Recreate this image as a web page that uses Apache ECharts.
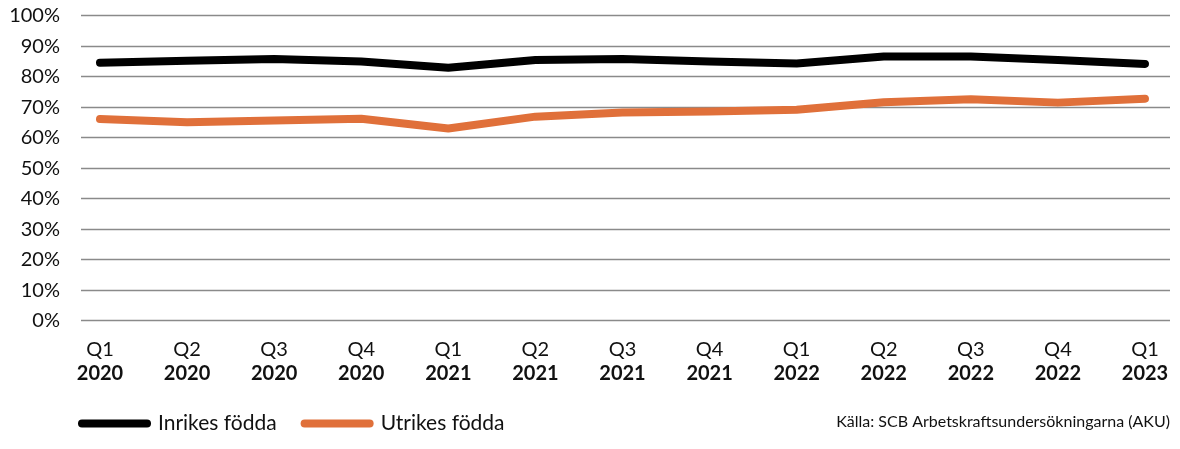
<!DOCTYPE html>
<html>
<head>
<meta charset="utf-8">
<script src="https://cdn.jsdelivr.net/npm/echarts@6/dist/echarts.min.js"></script>
<style>
html,body{margin:0;padding:0;background:#fff;}
#chart{width:1180px;height:449px;}
</style>
</head>
<body>
<div id="chart"></div>
<script>
const quarters = ['Q1','Q2','Q3','Q4','Q1','Q2','Q3','Q4','Q1','Q2','Q3','Q4','Q1'];
const years = ['2020','2020','2020','2020','2021','2021','2021','2021','2022','2022','2022','2022','2023'];
const inrikes = [84.6, 85.2, 85.8, 85.0, 82.9, 85.5, 85.8, 85.0, 84.3, 86.6, 86.6, 85.5, 84.2];
const utrikes = [66.1, 65.1, 65.6, 66.2, 63.0, 66.9, 68.3, 68.6, 69.2, 71.6, 72.6, 71.5, 72.8];
const seriesNames = ['Inrikes födda', 'Utrikes födda'];
const sourceText = 'Källa: SCB Arbetskraftsundersökningarna (AKU)';

const idx = quarters.map((_, i) => i);
const FONT = 'Lato, "Open Sans", sans-serif';
const chart = echarts.init(document.getElementById('chart'));
chart.setOption({
  animation: false,
  grid: { left: 81, right: 10, top: 15.7, bottom: 128.3, containLabel: false },
  xAxis: {
    type: 'value',
    min: -0.218,
    max: 12.287,
    axisLine: { show: false },
    axisTick: { show: false },
    splitLine: { show: false },
    axisLabel: {
      customValues: idx,
      margin: 17,
      fontFamily: FONT,
      formatter: v => { const i = Math.round(v); return '{q|' + quarters[i] + '}\n{y|' + years[i] + '}'; },
      rich: {
        q: { fontSize: 20, fontFamily: FONT, color: '#111', lineHeight: 24 },
        y: { fontSize: 20, fontFamily: FONT, fontWeight: 'bold', color: '#111', lineHeight: 24 }
      }
    }
  },
  yAxis: {
    type: 'value',
    min: 0, max: 100, interval: 10,
    axisLine: { show: false },
    axisTick: { show: false },
    axisLabel: { formatter: '{value}%', fontSize: 20, fontFamily: FONT, color: '#111', margin: 21 },
    splitLine: { lineStyle: { color: '#8a8a8a', width: 1.3 } }
  },
  legend: {
    left: 73, top: 408,
    itemWidth: 73, itemHeight: 8, itemGap: 24,
    icon: 'path://M4,0 H69 A4,4 0 0 1 69,8 H4 A4,4 0 0 1 4,0 Z',
    textStyle: { fontSize: 21, fontFamily: FONT, color: '#111', padding: [0, 0, 0, 2] },
    data: seriesNames
  },
  graphic: [{
    type: 'text', right: 10, top: 414,
    style: { text: sourceText, font: '16px ' + FONT, fill: '#111' }
  }],
  series: [
    { name: seriesNames[0], type: 'line', symbol: 'none', color: '#000000',
      lineStyle: { width: 8, cap: 'round', join: 'round', color: '#000000' },
      data: inrikes.map((v, i) => [i, v]) },
    { name: seriesNames[1], type: 'line', symbol: 'none', color: '#E0703A',
      lineStyle: { width: 8, cap: 'round', join: 'round', color: '#E0703A' },
      data: utrikes.map((v, i) => [i, v]) }
  ]
});
</script>
</body>
</html>
